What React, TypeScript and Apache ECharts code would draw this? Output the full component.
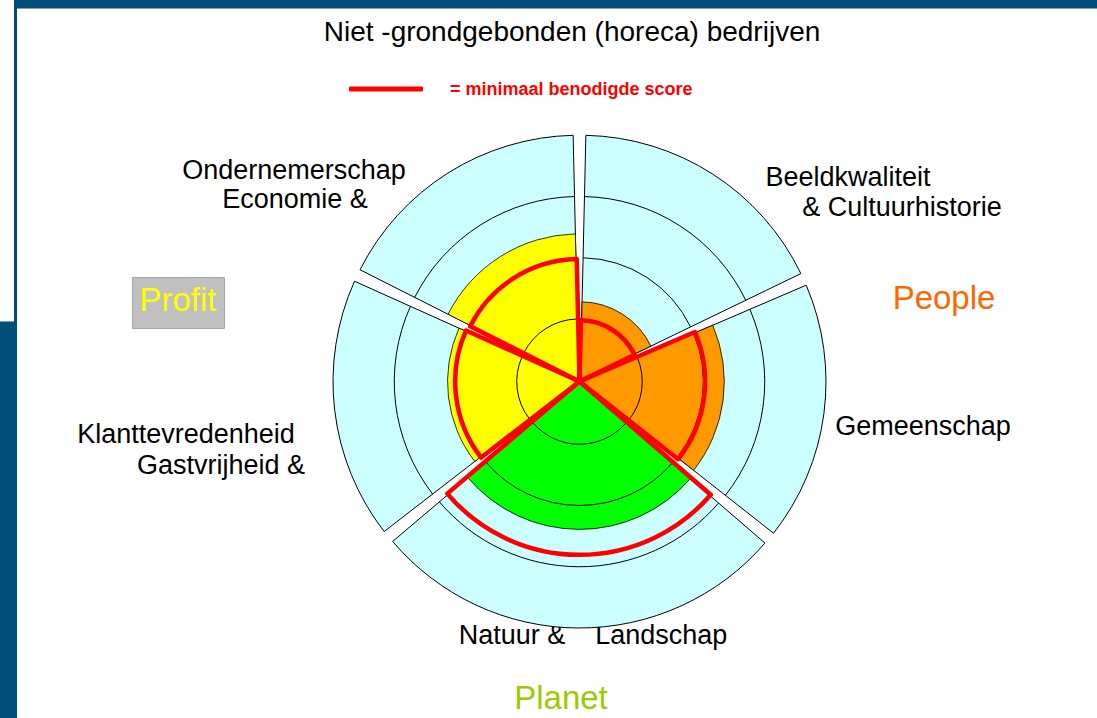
import React, { useEffect, useRef } from 'react';
import * as echarts from 'echarts';

// ---- data ----
const title = 'Niet -grondgebonden (horeca) bedrijven';
const legendLabel = '= minimaal benodigde score';
const categories = [
  'Beeldkwaliteit & Cultuurhistorie',
  'Gemeenschap',
  'Natuur & Landschap',
  'Gastvrijheid & Klanttevredenheid',
  'Economie & Ondernemerschap',
];
const sliceSpans = [65.5, 64, 101.5, 64.5, 64.5]; // angular share of each theme (degrees)
const scores = [1.28, 2.34, 2.39, 2.13, 2.39];
const minScores = [1.0, 2.05, 2.83, 2.03, 2.0];
const ringTicks = [1, 2, 3];
const scaleMax = 4;
const pillarOf = ['People', 'People', 'Planet', 'Profit', 'Profit'];
const pillarNames = ['People', 'Planet', 'Profit'];
const labelLines = [
  ['Beeldkwaliteit', '& Cultuurhistorie'],
  ['Gemeenschap'],
  ['Natuur &    Landschap'],
  ['Klanttevredenheid', 'Gastvrijheid &'],
  ['Ondernemerschap', 'Economie &'],
];

// ---- styling ----
const FONT = '"Liberation Sans", Arial, sans-serif';
const pillarColors: Record<string, string> = { People: '#FF9900', Planet: '#00FF00', Profit: '#FFFF00' };
const PAD = 1.3;
const EXPLODE = 1.5;

const bounds: number[] = [0];
sliceSpans.forEach((s, i) => bounds.push(bounds[i] + s));

function helpers(params: any, api: any) {
  const cs = params.coordSys;
  const cx = cs.cx;
  const cy = cs.cy;
  const ang = (deg: number) => {
    const p = api.coord([scaleMax, deg]);
    return Math.atan2(p[1] - cy, p[0] - cx);
  };
  const rad = (v: number) => {
    const p = api.coord([v, 0]);
    return Math.hypot(p[0] - cx, p[1] - cy);
  };
  const span = (i: number) => {
    const a0 = ang(bounds[i] + PAD);
    let a1 = ang(bounds[i + 1] - PAD);
    while (a1 <= a0) a1 += Math.PI * 2;
    const am = ang((bounds[i] + bounds[i + 1]) / 2);
    return { a0, a1, am };
  };
  return { cx, cy, ang, rad, span };
}

const labelLayout = [
  [{ x: 848, y: 177, align: 'center' }, { x: 902, y: 207, align: 'center' }],
  [{ x: 923, y: 426, align: 'center' }],
  [{ x: 593, y: 635, align: 'center' }],
  [{ x: 186, y: 434, align: 'center' }, { x: 221, y: 465, align: 'center' }],
  [{ x: 294, y: 170, align: 'center' }, { x: 295, y: 199, align: 'center' }],
];

export default function App() {
  const ref = useRef<HTMLDivElement>(null);
  useEffect(() => {
    if (!ref.current) return;
    const chart = echarts.init(ref.current, null, { renderer: 'svg' });

    const texts: any[] = [];
    labelLines.forEach((lines, i) => {
      lines.forEach((t, j) => {
        const l = labelLayout[i][j];
        texts.push({
          type: 'text',
          x: l.x,
          y: l.y,
          style: { text: t, fill: '#000', fontSize: 27, fontFamily: FONT, align: l.align, verticalAlign: 'middle' },
        });
      });
    });
    const pillarPos: Record<string, any> = {
      People: { x: 944, y: 297, color: '#FF6600' },
      Planet: { x: 561, y: 697, color: '#99CC00' },
      Profit: { x: 178, y: 299, color: '#FFFF00' },
    };

    const option: any = {
      animation: false,
      backgroundColor: '#FFFFFF',
      title: {
        text: title,
        left: 567,
        top: 12,
        textAlign: 'center',
        textStyle: { fontSize: 28, fontWeight: 'normal', color: '#000', fontFamily: FONT },
      },
      legend: {
        data: [{ name: legendLabel, icon: 'roundRect' }],
        left: 344,
        top: 75,
        itemWidth: 74,
        itemHeight: 5,
        selectedMode: false,
        textStyle: { color: '#FF0000', fontWeight: 'bold', fontSize: 18, fontFamily: FONT, padding: [20, 0, 0, 22] },
      },
      polar: { center: [579.5, 381.5], radius: 245 },
      angleAxis: { type: 'value', min: 0, max: 360, startAngle: 90, clockwise: true, show: false },
      radiusAxis: { type: 'value', min: 0, max: scaleMax, show: false },
      series: [
        {
          type: 'custom',
          name: 'score',
          coordinateSystem: 'polar',
          silent: true,
          z: 2,
          data: scores.map((s, i) => [s, (bounds[i] + bounds[i + 1]) / 2]),
          renderItem: (params: any, api: any) => {
            const i = params.dataIndex;
            const h = helpers(params, api);
            const { a0, a1, am } = h.span(i);
            const ox = h.cx + Math.cos(am) * EXPLODE;
            const oy = h.cy + Math.sin(am) * EXPLODE;
            const children: any[] = [
              {
                type: 'sector',
                shape: { cx: ox, cy: oy, r0: 0, r: h.rad(scaleMax), startAngle: a0, endAngle: a1, clockwise: true },
                style: { fill: '#CCFFFF', stroke: '#000', lineWidth: 1 },
              },
              {
                type: 'sector',
                shape: { cx: ox, cy: oy, r0: 0, r: h.rad(scores[i]), startAngle: a0, endAngle: a1, clockwise: true },
                style: { fill: pillarColors[pillarOf[i]], stroke: '#000', lineWidth: 0.8 },
              },
            ];
            ringTicks.forEach((t) => {
              children.push({
                type: 'arc',
                shape: { cx: ox, cy: oy, r: h.rad(t), startAngle: a0, endAngle: a1, clockwise: true },
                style: { fill: 'none', stroke: '#000', lineWidth: 1 },
              });
            });
            return { type: 'group', children };
          },
        },
        {
          type: 'custom',
          name: legendLabel,
          coordinateSystem: 'polar',
          silent: true,
          z: 5,
          itemStyle: { color: '#FF0000' },
          data: minScores.map((s, i) => [s, (bounds[i] + bounds[i + 1]) / 2]),
          renderItem: (params: any, api: any) => {
            const i = params.dataIndex;
            const h = helpers(params, api);
            const { a0, a1 } = h.span(i);
            return {
              type: 'sector',
              shape: { cx: h.cx, cy: h.cy, r0: 0, r: h.rad(minScores[i]), startAngle: a0, endAngle: a1, clockwise: true },
              style: { fill: 'none', stroke: '#FF0000', lineWidth: 4.5, lineJoin: 'round' },
            };
          },
        },
      ],
      graphic: [
        { type: 'rect', shape: { x: 14, y: 0, width: 1083, height: 8 }, style: { fill: '#004E7A' }, silent: true },
        { type: 'rect', shape: { x: 14, y: 8, width: 1083, height: 1 }, style: { fill: '#7F9FB8' }, silent: true },
        { type: 'rect', shape: { x: 14, y: 0, width: 3, height: 322 }, style: { fill: '#004E7A' }, silent: true },
        { type: 'rect', shape: { x: 0, y: 322, width: 17, height: 396 }, style: { fill: '#004E7A' }, silent: true },
        { type: 'rect', shape: { x: 0, y: 321, width: 14, height: 1 }, style: { fill: '#7F9FB8' }, silent: true },
        {
          type: 'rect',
          shape: { x: 132.5, y: 277.5, width: 92, height: 51 },
          style: { fill: '#C0C0C0', stroke: '#A6A6A6', lineWidth: 1 },
          silent: true,
        },
        ...pillarNames.map((p) => ({
          type: 'text',
          x: pillarPos[p].x,
          y: pillarPos[p].y,
          z: 10,
          style: { text: p, fill: pillarPos[p].color, fontSize: 33, fontFamily: FONT, align: 'center', verticalAlign: 'middle' },
        })),
        ...texts,
      ],
    };
    chart.setOption(option);
    return () => chart.dispose();
  }, []);
  return <div ref={ref} style={{ position: 'fixed', left: 0, top: 0, width: 1097, height: 718 }} />;
}
